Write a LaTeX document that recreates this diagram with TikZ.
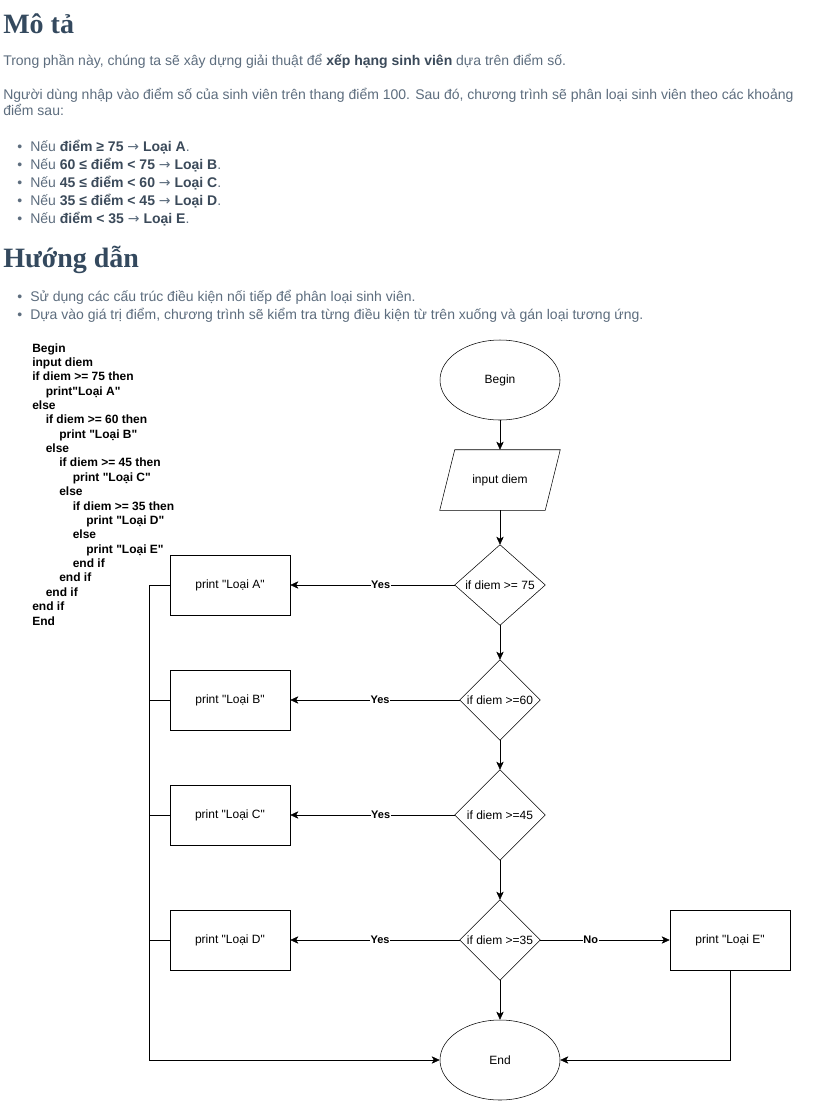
\documentclass[tikz,border=0pt]{standalone}
\usepackage{fontspec}
\setmainfont{Liberation Sans}
\newfontfamily\headfont{Liberation Serif}
\newfontfamily\symfont{DejaVu Sans}
\usetikzlibrary{shapes,arrows.meta,positioning,calc}
\definecolor{headslate}{HTML}{34495E}
\definecolor{bodygray}{HTML}{5D6D7E}
\definecolor{boldslate}{HTML}{3B4A5A}
\newcommand{\boldpart}[1]{{\bfseries\color{boldslate}#1}}
\newcommand{\rarr}{{\symfont\mdseries\color{bodygray}→}}
\newcommand{\qm}{\textquotedbl}
\tikzstyle{arrow} = [-{Stealth[length=6pt,width=5.5pt,inset=1.5pt]}, black]
\tikzstyle{chartfont} = [font=\fontsize{9}{11}\selectfont]
\tikzstyle{procbox} = [draw, chartfont, minimum width=90pt, minimum height=45pt]
\tikzstyle{terminal} = [draw, ellipse, chartfont, minimum width=90pt, minimum height=60pt]
\tikzstyle{edgelabel} = [fill=white, inner sep=0.5pt, font=\bfseries\fontsize{8.25}{10}\selectfont]
\tikzstyle{bodytext} = [anchor=base west, inner sep=0, text=bodygray, font=\fontsize{10.5}{13}\selectfont]
\tikzstyle{heading} = [anchor=base west, inner sep=0, text=headslate, font=\headfont\bfseries\fontsize{21}{24}\selectfont]
\tikzstyle{codeline} = [anchor=base west, inner sep=0, font=\bfseries\fontsize{9}{11}\selectfont]

\begin{document}
\begin{tikzpicture}[x=0.75pt, y=-0.75pt]
\useasboundingbox[fill=white] (0,0) rectangle (820,1101);

% text above the chart
\node[heading] (h1) at (3,33) {Mô tả};
\node[bodytext] (p1) at (3,65) {Trong phần này, chúng ta sẽ xây dựng giải thuật để \boldpart{xếp hạng sinh viên} dựa trên điểm số.};
\node[bodytext] (p2) at (3,99) {Người dùng nhập vào điểm số của sinh viên trên thang điểm 100. Sau đó, chương trình sẽ phân loại sinh viên theo các khoảng};
\node[bodytext] (p3) at (3,115) {điểm sau:};
\foreach \y/\t [count=\i] in {151/{Nếu \boldpart{điểm ≥ 75 \rarr{} Loại A}.},
    169/{Nếu \boldpart{60 ≤ điểm < 75 \rarr{} Loại B}.},
    187/{Nếu \boldpart{45 ≤ điểm < 60 \rarr{} Loại C}.},
    205/{Nếu \boldpart{35 ≤ điểm < 45 \rarr{} Loại D}.},
    223/{Nếu \boldpart{điểm < 35 \rarr{} Loại E}.}} {
  \node[bodytext] (dotA\i) at (17,\y) {•};
  \node[bodytext] (itemA\i) at (30,\y) {\t};
}
\node[heading] (h2) at (3,267) {Hướng dẫn};
\foreach \y/\t [count=\i] in {301/{Sử dụng các cấu trúc điều kiện nối tiếp để phân loại sinh viên.},
    319/{Dựa vào giá trị điểm, chương trình sẽ kiểm tra từng điều kiện từ trên xuống và gán loại tương ứng.}} {
  \node[bodytext] (dotB\i) at (17,\y) {•};
  \node[bodytext] (itemB\i) at (30,\y) {\t};
}

% pseudo code
\foreach \ind/\t [count=\i from 0] in {0/Begin, 0/input diem, 0/if diem >= 75 then, 1/print\qm Loại A\qm, 0/else,
    1/if diem >= 60 then, 2/print \qm Loại B\qm, 1/else, 2/if diem >= 45 then, 3/print \qm Loại C\qm, 2/else,
    3/if diem >= 35 then, 4/print \qm Loại D\qm, 3/else, 4/print \qm Loại E\qm, 3/end if, 2/end if, 1/end if,
    0/end if, 0/End} {
  \node[codeline] (code\i) at ({32+13.5*\ind},{352+14.37*\i}) {\t};
}

% flowchart
\node[terminal] (begin) at (500,380) {Begin};
\node[chartfont, minimum width=90pt, minimum height=45pt] (inp) at (500,480) {input diem};
\draw ($(inp.north west)+(15,0)$) -- (inp.north east) -- ($(inp.south east)-(15,0)$) -- (inp.south west) -- cycle;
\foreach \n/\y/\w/\h/\t in {d1/585/67.5/60/if diem >= 75, d2/700/60/60/if diem >=60,
    d3/815/67.5/67.5/if diem >=45, d4/940/60/60/if diem >=35} {
  \node[chartfont, inner sep=0, minimum width=\w pt, minimum height=\h pt] (\n) at (500,\y) {\t};
  \draw (\n.north) -- (\n.east) -- (\n.south) -- (\n.west) -- cycle;
}
\foreach \n/\y/\L in {pA/585/A, pB/700/B, pC/815/C, pD/940/D} {
  \node[procbox] (\n) at (230,\y) {print \qm Loại \L\qm};
}
\node[procbox] (pE) at (730,940) {print \qm Loại E\qm};
\node[terminal] (end) at (500,1060) {End};

\draw[arrow] (begin) -- (inp);
\draw[arrow] (inp) -- (d1);
\draw[arrow] (d1) -- (d2);
\draw[arrow] (d2) -- (d3);
\draw[arrow] (d3) -- (d4);
\draw[arrow] (d4) -- (end);
\draw[arrow] (d1.west) -- node[edgelabel, pos=0.45] {Yes} (pA.east);
\draw[arrow] (d2.west) -- node[edgelabel, pos=0.47] {Yes} (pB.east);
\draw[arrow] (d3.west) -- node[edgelabel, pos=0.45] {Yes} (pC.east);
\draw[arrow] (d4.west) -- node[edgelabel, pos=0.47] {Yes} (pD.east);
\draw[arrow] (d4.east) -- node[edgelabel, pos=0.39] {No} (pE.west);
\draw[arrow] (pA.west) -- ++(-20,0) |- (end.west);
\draw (pB.west) -- ++(-20,0);
\draw (pC.west) -- ++(-20,0);
\draw (pD.west) -- ++(-20,0);
\draw[arrow] (pE.south) |- (end.east);
\end{tikzpicture}
\end{document}
